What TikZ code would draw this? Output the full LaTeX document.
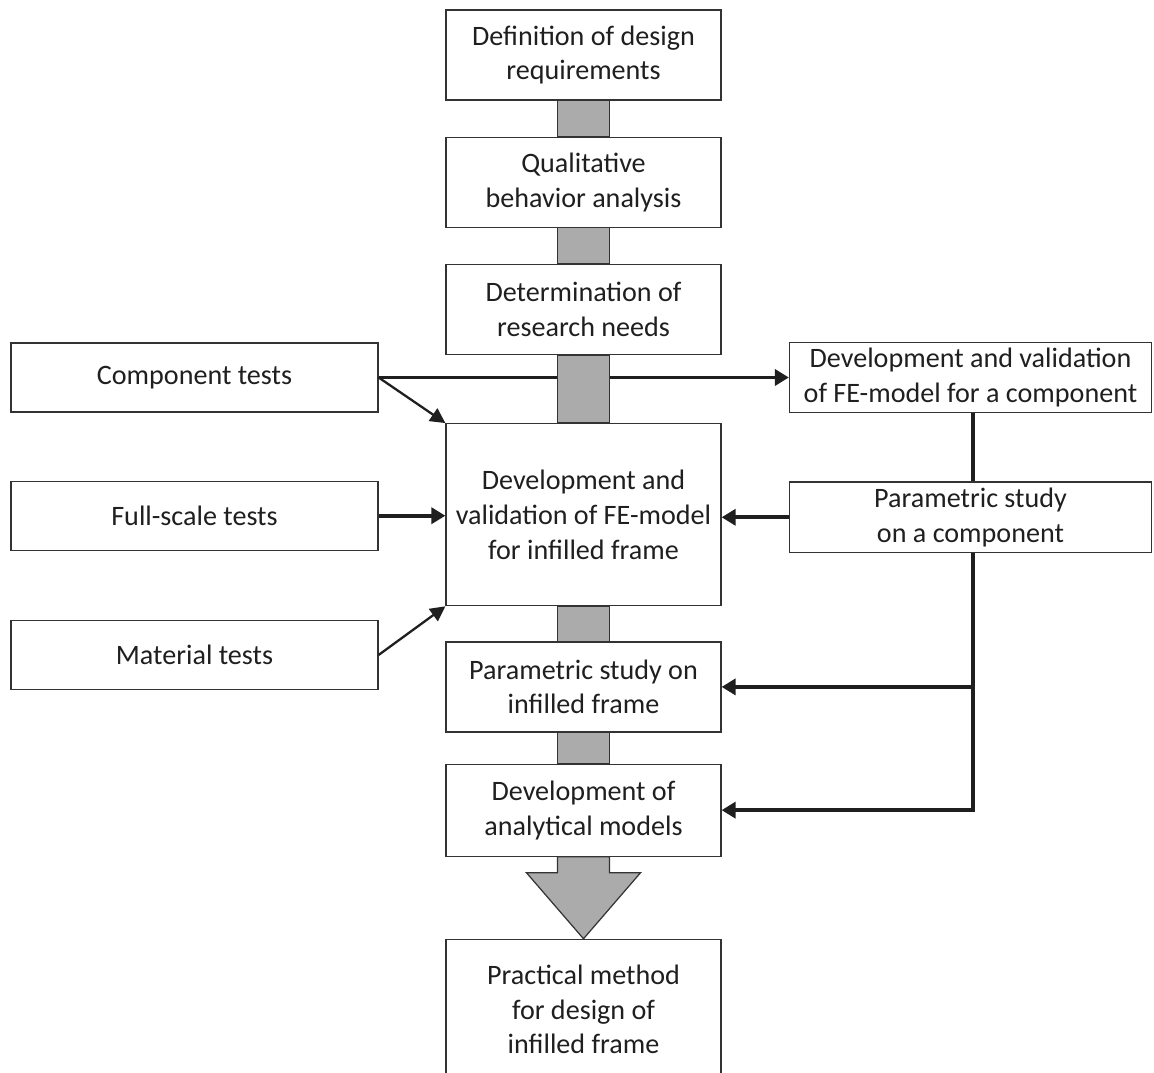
\documentclass[tikz,border=0pt]{standalone}
\usepackage{fontspec}
\setmainfont{Carlito}
\usetikzlibrary{positioning, arrows.meta, calc}

\begin{document}
\begin{tikzpicture}[
    >=Triangle,
    font=\fontsize{16}{19.8}\selectfont,
    stage/.style={
        rectangle, draw=black!80, line width=0.7pt, fill=white,
        minimum width=5.5cm, minimum height=1.8cm, align=center,
        text=black!88
    },
    test/.style={
        rectangle, draw=black!80, line width=0.7pt, fill=white,
        minimum width=7.34cm, minimum height=1.38cm, align=center,
        text=black!88
    },
    model/.style={
        rectangle, draw=black!80, line width=0.7pt, fill=white,
        minimum width=7.24cm, minimum height=1.38cm, align=center,
        inner xsep=1pt, text=black!88
    },
    band/.style={draw=black!80, line width=0.7pt, fill=black!33},
    route/.style={line width=2.1pt, black!88},
    arr/.style={route, -{Triangle[length=0.28cm, width=0.32cm]}},
    darr/.style={line width=1.3pt, black!88, -{Triangle[length=0.3cm, width=0.3cm]}},
]
\useasboundingbox (0,0) rectangle (23.08,-21.46);

% Main column
\node[stage] (req) at (11.67,-1.1) {Definition of design\\requirements};
\node[stage, below=0.72cm of req] (qual) {Qualitative\\behavior analysis};
\node[stage, below=0.72cm of qual] (needs) {Determination of\\research needs};
\node[stage, below=1.36cm of needs, minimum height=3.64cm] (fe)
    {Development and\\validation of FE-model\\for infilled frame};
\node[stage, below=0.7cm of fe] (param) {Parametric study on\\infilled frame};
\node[stage, below=0.62cm of param, minimum height=1.84cm] (analyt) {Development of\\analytical models};
\node[stage, below=1.64cm of analyt, minimum height=2.8cm] (practical)
    {Practical method\\for design of\\infilled frame};

% Test inputs on the left
\node[test] (comp) at (3.89,-7.55) {Component tests};
\node[test, below=1.36cm of comp] (full) {Full-scale tests};
\node[test, below=1.38cm of full] (mat) {Material tests};

% Component models on the right
\node[model] (fecomp) at (19.41,-7.55) {Development and validation\\of FE-model for a component};
\node[model, below=1.36cm of fecomp] (paramcomp) {Parametric study\\on a component};

% Side bus
\coordinate (bus) at ([xshift=0.05cm]paramcomp.south);
\coordinate (bus_param) at (bus |- param.east);
\coordinate (bus_analyt) at (bus |- analyt.east);

% Input arrows
\draw[arr] (comp.east) -- (fecomp.west);
\draw[darr] (comp.east) -- (fe.north west);
\draw[arr] (full.east) -- (full.east -| fe.west);
\draw[darr] (mat.east) -- (fe.south west);
\draw[arr] (paramcomp.west) -- (paramcomp.west -| fe.east);

% Component chain and feedback to lower stages
\draw[route] (fecomp.south -| bus) -- (paramcomp.north -| bus);
\draw[route] (bus) -- ([yshift=-1.05pt]bus_analyt);
\draw[arr] (bus_param) -- (param.east);
\draw[arr] (bus_analyt) -- (analyt.east);

% Grey links between stages
\draw[band] ([xshift=-0.52cm]req.south) rectangle ([xshift=0.52cm]qual.north);
\draw[band] ([xshift=-0.52cm]qual.south) rectangle ([xshift=0.52cm]needs.north);
\draw[band] ([xshift=-0.52cm]needs.south) rectangle ([xshift=0.52cm]fe.north);
\draw[band] ([xshift=-0.52cm]fe.south) rectangle ([xshift=0.52cm]param.north);
\draw[band] ([xshift=-0.52cm]param.south) rectangle ([xshift=0.52cm]analyt.north);

% Big arrow to the result
\draw[band] ([xshift=-0.52cm]analyt.south) -- ++(0,-0.32) -- ++(-0.62,0)
    -- (practical.north) -- ($(analyt.south)+(1.14,-0.32)$) -- ++(-0.62,0)
    -- ([xshift=0.52cm]analyt.south) -- cycle;

\end{tikzpicture}
\end{document}
